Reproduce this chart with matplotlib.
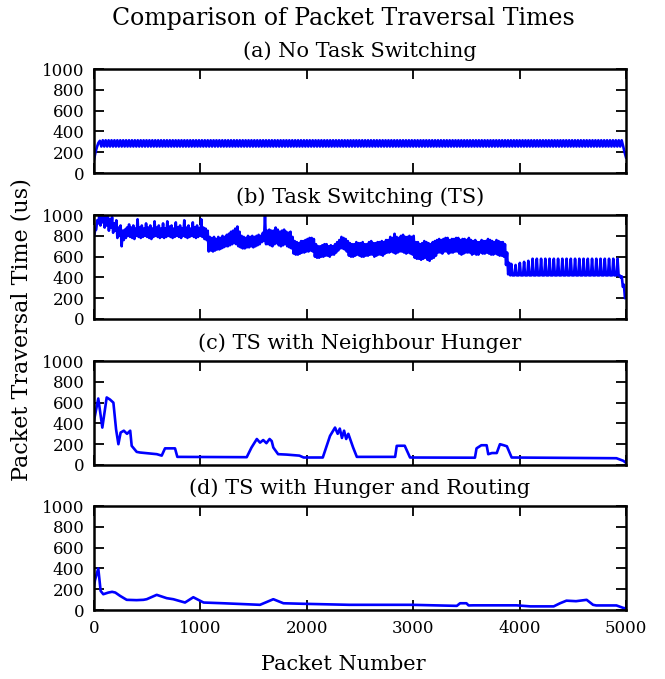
import numpy as np
import matplotlib
matplotlib.use("Agg")
import matplotlib.pyplot as plt

plt.rcParams['font.family'] = ['DejaVu Serif']

# --- data ---
titles = ["(a) No Task Switching", "(b) Task Switching (TS)",
          "(c) TS with Neighbour Hunger", "(d) TS with Hunger and Routing"]

# (a) sampled every ~15 packets
a_time = [130, 200, 250, 290, 310,
          255, 315, 255, 315, 255, 315, 255, 315, 255, 315, 255, 315, 255, 315, 255, 315, 255, 315, 255, 315, 255, 315,
          255, 315, 255, 315, 255, 315, 255, 315, 255, 315, 255, 315, 255, 315, 255, 315, 255, 315, 255, 315, 255, 315,
          255, 315, 255, 315, 255, 315, 255, 315, 255, 315, 255, 315, 255, 315, 255, 315, 255, 315, 255, 315, 255, 315,
          255, 315, 255, 315, 255, 315, 255, 315, 255, 315, 255, 315, 255, 315, 255, 315, 255, 315, 255, 315, 255, 315,
          255, 315, 255, 315, 255, 315, 255, 315, 255, 315, 255, 315, 255, 315, 255, 315, 255, 315, 255, 315, 255, 315,
          255, 315, 255, 315, 255, 315, 255, 315, 255, 315, 255, 315, 255, 315, 255, 315, 255, 315, 255, 315, 255, 315,
          255, 315, 255, 315, 255, 315, 255, 315, 255, 315, 255, 315, 255, 315, 255, 315, 255, 315, 255, 315, 255, 315,
          255, 315, 255, 315, 255, 315, 255, 315, 255, 315, 255, 315, 255, 315, 255, 315, 255, 315, 255, 315, 255, 315,
          255, 315, 255, 315, 255, 315, 255, 315, 255, 315, 255, 315, 255, 315, 255, 315, 255, 315, 255, 315, 255, 315,
          255, 315, 255, 315, 255, 315, 255, 315, 255, 315, 255, 315, 255, 315, 255, 315, 255, 315, 255, 315, 255, 315,
          255, 315, 255, 315, 255, 315, 255, 315, 255, 315, 255, 315, 255, 315, 255, 315, 255, 315, 255, 315, 255, 315,
          255, 315, 255, 315, 255, 315, 255, 315, 255, 315, 255, 315, 255, 315, 255, 315, 255, 315, 255, 315, 255, 315,
          255, 315, 255, 315, 255, 315, 255, 315, 255, 315, 255, 315, 255, 315, 255, 315, 255, 315, 255, 315, 255, 315,
          255, 315, 255, 315, 255, 315, 255, 315, 255, 315, 255, 315, 255, 315, 255, 315, 255, 315, 255, 315, 255, 315,
          255, 315, 255, 315, 255, 315, 255, 315, 255, 315, 255, 315, 255, 315, 255, 315, 255, 315, 255, 315, 255, 315,
          255, 315, 255, 315, 255, 315, 255, 315, 255, 315, 255, 315, 255, 315, 255, 315, 255, 315, 255, 315, 255, 315,
          255, 315, 255, 315, 255, 315,
          260, 200, 150]

# (b) band edges every 20 packets; the trace swings between them
b_upper = [850, 950, 1000, 1000, 1000, 990, 1000, 960, 980, 920, 950,
           880, 900, 850, 860, 880,
           910, 880, 900, 870, 960, 880, 900, 870, 920, 880,
           900, 870, 940, 880, 900, 870, 920, 870, 940, 890,
           900, 870, 930, 880, 900, 870, 950, 880, 900, 870,
           930, 880, 900, 870, 960, 880, 870, 850,
           790, 780, 790, 770, 790, 780, 800, 790, 810, 820,
           840, 850, 870, 890, 840,
           800, 790, 780, 800, 790, 800, 790, 800, 810, 800,
           830, 1000, 850,
           860, 850, 850, 880, 860, 840, 850, 860, 840, 830, 840, 790,
           750, 740, 730, 750, 750, 760, 770, 780, 780, 770,
           720, 700, 700, 710, 720, 720, 700, 710, 700, 720, 740,
           760, 790, 780, 770, 750,
           730, 720, 720, 740, 730, 730, 740, 720, 720, 740,
           750, 730, 730, 740, 740, 750, 740, 760, 760,
           790, 780, 820, 790, 780, 800, 810, 790, 790, 800, 790, 800,
           740, 740, 720, 730, 750, 740, 730, 720, 740, 750, 760,
           770, 760, 770, 780, 780, 760, 770, 770, 780, 780, 760, 770, 770, 760, 780, 760,
           750, 760, 740, 740, 760, 750, 750, 770, 760, 750, 740, 760, 750, 740, 740, 720,
           640, 540,
           530, 420, 520, 420, 540, 420, 550, 420, 560, 420,
           580, 420, 580, 420, 580, 420, 580, 420, 580, 420, 580, 420, 580, 420,
           580, 420, 580, 420, 580, 420, 580, 420, 580, 420, 580, 420, 580, 420,
           580, 420, 580, 420, 580, 420, 580, 420, 580, 420, 580, 420, 580, 420,
           410, 330, 220]
b_lower = [800, 860, 920, 900, 930, 880, 900, 850, 880, 830, 850,
           780, 800, 700, 760, 780,
           800, 790, 780, 770, 800, 790, 780, 790, 800, 790,
           780, 770, 790, 800, 790, 780, 790, 780, 790, 800,
           790, 780, 790, 800, 790, 780, 800, 790, 780, 790,
           800, 790, 780, 790, 800, 790, 770, 760,
           650, 660, 650, 660, 670, 670, 680, 690, 700, 700,
           710, 720, 730, 720, 700,
           690, 680, 680, 690, 690, 700, 690, 700, 710, 720,
           740, 750, 720,
           720, 710, 700, 720, 730, 710, 700, 710, 720, 700, 690, 680,
           630, 620, 620, 630, 640, 640, 650, 650, 660, 650,
           600, 590, 590, 600, 600, 610, 610, 600, 620, 620, 640,
           660, 680, 680, 670, 650,
           610, 600, 600, 610, 620, 610, 600, 600, 610, 610,
           620, 620, 600, 610, 620, 620, 610, 630, 640,
           640, 650, 640, 630, 640, 650, 650, 640, 630, 640, 630, 620,
           590, 580, 580, 570, 580, 590, 570, 560, 580, 590, 610,
           640, 640, 630, 650, 650, 630, 640, 640, 650, 650, 630, 620, 630, 640, 640, 640,
           620, 630, 620, 620, 640, 630, 630, 640, 630, 620, 620, 630, 620, 610, 610, 600,
           520, 430,
           420, 420, 420, 420, 420, 420, 420, 420, 420, 420,
           420, 420, 420, 420, 420, 420, 420, 420, 420, 420, 420, 420, 420, 420,
           420, 420, 420, 420, 420, 420, 420, 420, 420, 420, 420, 420, 420, 420,
           420, 420, 420, 420, 420, 420, 420, 420, 420, 420, 420, 420, 420, 420,
           400, 310, 200]
b_time = np.column_stack([b_lower, b_upper]).ravel()

# (c) breakpoints
c_pkt = [0, 40, 78, 119, 150, 182, 207, 229, 250, 280,
         310, 340, 354, 401, 432, 590, 636, 667, 761, 783,
         1435, 1480, 1530, 1560, 1590, 1620, 1650, 1670, 1685, 1730,
         1810, 1930, 1970, 2150, 2218, 2265, 2290, 2310, 2330, 2350,
         2370, 2390, 2435, 2470, 2830, 2845, 2875, 2920, 2970, 3580,
         3595, 3640, 3690, 3705, 3740, 3785, 3815, 3850, 3880, 3925,
         4910, 4975, 5000]
c_time = [430, 640, 360, 650, 630, 600, 344, 200, 312, 330,
          300, 330, 184, 126, 120, 104, 90, 160, 160, 78,
          75, 168, 250, 215, 240, 210, 250, 230, 168, 104,
          100, 90, 72, 72, 280, 360, 300, 350, 260, 330,
          250, 300, 168, 78, 78, 184, 185, 185, 72, 70,
          160, 190, 190, 104, 115, 115, 200, 190, 180, 72,
          65, 40, 20]

# (d) breakpoints
d_pkt = [0, 9, 40, 62, 87, 135, 170, 200, 245, 307,
         400, 464, 495, 589, 683, 745, 855, 933, 980, 1030,
         1215, 1560, 1685, 1780, 1960, 2400, 2985, 3410, 3440, 3500,
         3520, 3565, 3970, 4100, 4320, 4380, 4440, 4530, 4630, 4690,
         4720, 4910, 4975, 5000]
d_time = [230, 288, 400, 184, 152, 168, 175, 168, 136, 98,
          95, 98, 104, 146, 114, 104, 72, 123, 98, 72,
          65, 50, 104, 65, 60, 50, 50, 40, 65, 65,
          44, 45, 45, 35, 35, 65, 90, 85, 98, 50,
          44, 44, 20, 15]

series = [
    (np.linspace(0, 5000, len(a_time)), a_time),
    (np.linspace(0, 5000, len(b_time)), b_time),
    (c_pkt, c_time),
    (d_pkt, d_time),
]

fig = plt.figure(figsize=(6.65, 6.79), dpi=100)
bottoms = [0.7452, 0.5302, 0.3152, 0.1016]

for i, (xs, ys) in enumerate(series):
    ax = fig.add_axes([0.1414, bottoms[i], 0.80, 0.153])
    ax.plot(xs, ys, color='b', lw=1.9)
    ax.set_xlim(0, 5000)
    ax.set_ylim(0, 1000)
    ax.set_xticks(range(0, 5001, 1000))
    ax.set_yticks(range(0, 1001, 200))
    ax.tick_params(direction='in', top=True, right=True, length=7, width=1.3,
                   labelsize=12, pad=7)
    for sp in ax.spines.values():
        sp.set_linewidth(1.8)
    ax.set_title(titles[i], fontsize=15, pad=9)
    if i < 3:
        ax.set_xticklabels([])

fig.suptitle("Comparison of Packet Traversal Times", fontsize=17, x=0.517, y=0.99)
fig.text(0.516, 0.022, "Packet Number", ha='center', va='center', fontsize=15)
fig.text(0.033, 0.514, "Packet Traversal Time (us)", ha='center', va='center',
         rotation=90, fontsize=16)

fig.savefig("out.png", dpi=100)
